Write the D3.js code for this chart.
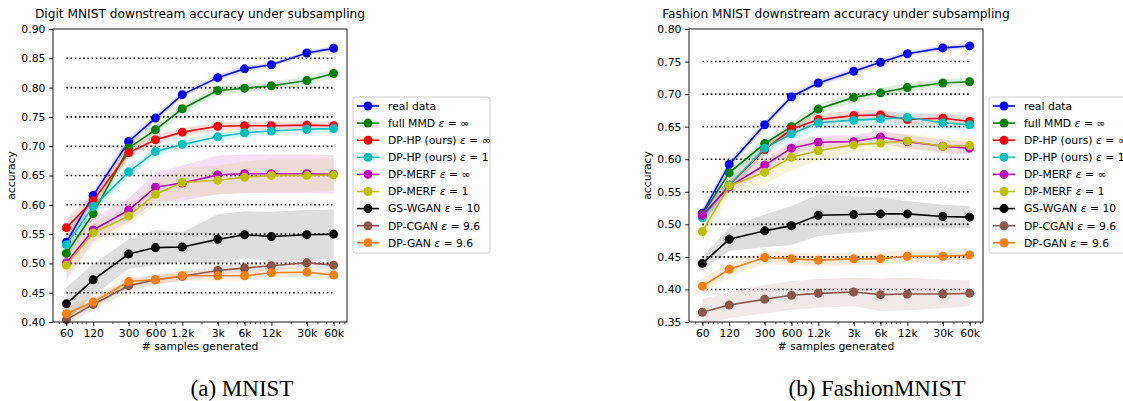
<!DOCTYPE html>
<html>
<head>
<meta charset="utf-8">
<script src="https://cdn.jsdelivr.net/npm/d3@7"></script>
<style>
  body { margin: 0; background: #fff; }
  svg { display: block; font-family: "DejaVu Sans", sans-serif; }
</style>
</head>
<body>
<svg id="chart" width="1123" height="401"></svg>
<script>
// CONSTANTS
/**
 * Number of generated samples used on the x axis (log scale)
 * @type {Array}
 */
const sampleSizes = [60, 120, 300, 600, 1200, 3000, 6000, 12000, 30000, 60000];
const sampleLabels = ['60', '120', '300', '600', '1.2k', '3k', '6k', '12k', '30k', '60k'];

const methodNames = ['real data', 'full MMD', 'DP-HP (ours)', 'DP-HP (ours)', 'DP-MERF', 'DP-MERF',
  'GS-WGAN', 'DP-CGAN', 'DP-GAN'];
const methodEpsilons = ['', '∞', '∞', '1', '∞', '1', '10', '9.6', '9.6'];
const methodColors = ['#0000ff', '#008000', '#ff0000', '#00bfbf', '#bf00bf', '#bfbf00', '#000000', '#8c564b', '#ff7f0e'];

// Digit MNIST, mean accuracy
const mnistRealData = [0.536, 0.616, 0.708, 0.748, 0.788, 0.817, 0.832, 0.839, 0.859, 0.867];
const mnistFullMmd = [0.517, 0.585, 0.697, 0.728, 0.764, 0.795, 0.799, 0.803, 0.812, 0.824];
const mnistDpHpInf = [0.561, 0.607, 0.689, 0.711, 0.724, 0.734, 0.735, 0.735, 0.736, 0.735];
const mnistDpHpEps1 = [0.532, 0.597, 0.656, 0.691, 0.703, 0.716, 0.723, 0.726, 0.729, 0.730];
const mnistMerfInf = [0.501, 0.557, 0.591, 0.630, 0.637, 0.651, 0.653, 0.653, 0.653, 0.652];
const mnistMerfEps1 = [0.497, 0.552, 0.581, 0.618, 0.638, 0.642, 0.647, 0.650, 0.650, 0.651];
const mnistGsWgan = [0.431, 0.472, 0.516, 0.527, 0.528, 0.541, 0.549, 0.546, 0.549, 0.550];
const mnistDpCgan = [0.404, 0.430, 0.462, 0.472, 0.478, 0.488, 0.492, 0.496, 0.501, 0.497];
const mnistDpGan = [0.414, 0.434, 0.469, 0.472, 0.479, 0.479, 0.479, 0.484, 0.485, 0.480];

// Digit MNIST, half width of the shaded band
const mnistRealDataErr = [0.010, 0.008, 0.008, 0.006, 0.005, 0.005, 0.005, 0.004, 0.004, 0.004];
const mnistFullMmdErr = [0.010, 0.010, 0.010, 0.008, 0.007, 0.007, 0.007, 0.007, 0.007, 0.007];
const mnistDpHpInfErr = [0.017, 0.012, 0.010, 0.008, 0.007, 0.007, 0.007, 0.007, 0.006, 0.006];
const mnistDpHpEps1Err = [0.010, 0.012, 0.010, 0.008, 0.007, 0.007, 0.007, 0.007, 0.007, 0.007];
const mnistMerfInfErr = [0.030, 0.020, 0.020, 0.025, 0.030, 0.033, 0.033, 0.033, 0.033, 0.033];
const mnistMerfEps1Err = [0.020, 0.020, 0.015, 0.020, 0.025, 0.025, 0.027, 0.028, 0.028, 0.028];
const mnistGsWganErr = [0.028, 0.027, 0.025, 0.030, 0.025, 0.043, 0.040, 0.042, 0.042, 0.042];
const mnistDpCganErr = [0.010, 0.010, 0.010, 0.008, 0.008, 0.008, 0.008, 0.008, 0.008, 0.008];
const mnistDpGanErr = [0.010, 0.010, 0.008, 0.008, 0.008, 0.008, 0.008, 0.008, 0.008, 0.008];

// Fashion MNIST, mean accuracy
const fashionRealData = [0.517, 0.592, 0.653, 0.696, 0.717, 0.735, 0.749, 0.762, 0.771, 0.774];
const fashionFullMmd = [0.515, 0.579, 0.624, 0.650, 0.677, 0.695, 0.702, 0.710, 0.717, 0.719];
const fashionDpHpInf = [0.512, 0.560, 0.615, 0.646, 0.661, 0.667, 0.668, 0.661, 0.663, 0.658];
const fashionDpHpEps1 = [0.510, 0.560, 0.617, 0.639, 0.656, 0.660, 0.662, 0.664, 0.656, 0.653];
const fashionMerfInf = [0.514, 0.558, 0.591, 0.617, 0.626, 0.627, 0.634, 0.627, 0.620, 0.617];
const fashionMerfEps1 = [0.489, 0.559, 0.580, 0.603, 0.613, 0.622, 0.625, 0.628, 0.620, 0.621];
const fashionGsWgan = [0.440, 0.477, 0.490, 0.498, 0.514, 0.515, 0.516, 0.516, 0.512, 0.511];
const fashionDpCgan = [0.365, 0.376, 0.385, 0.391, 0.394, 0.396, 0.392, 0.393, 0.393, 0.394];
const fashionDpGan = [0.405, 0.431, 0.449, 0.447, 0.445, 0.447, 0.447, 0.451, 0.451, 0.453];

// Fashion MNIST, half width of the shaded band
const fashionRealDataErr = [0.008, 0.006, 0.006, 0.005, 0.005, 0.005, 0.005, 0.004, 0.004, 0.004];
const fashionFullMmdErr = [0.008, 0.007, 0.007, 0.007, 0.007, 0.007, 0.007, 0.007, 0.006, 0.006];
const fashionDpHpInfErr = [0.008, 0.008, 0.008, 0.008, 0.008, 0.008, 0.008, 0.008, 0.008, 0.008];
const fashionDpHpEps1Err = [0.010, 0.010, 0.010, 0.010, 0.010, 0.010, 0.010, 0.010, 0.010, 0.010];
const fashionMerfInfErr = [0.010, 0.010, 0.010, 0.010, 0.010, 0.010, 0.010, 0.010, 0.010, 0.010];
const fashionMerfEps1Err = [0.015, 0.015, 0.018, 0.020, 0.015, 0.012, 0.012, 0.012, 0.012, 0.012];
const fashionGsWganErr = [0.010, 0.018, 0.025, 0.030, 0.032, 0.028, 0.025, 0.020, 0.018, 0.017];
const fashionDpCganErr = [0.020, 0.020, 0.022, 0.022, 0.022, 0.022, 0.025, 0.025, 0.022, 0.020];
const fashionDpGanErr = [0.012, 0.010, 0.010, 0.010, 0.010, 0.010, 0.010, 0.010, 0.010, 0.010];

const mnistTicks = [0.40, 0.45, 0.50, 0.55, 0.60, 0.65, 0.70, 0.75, 0.80, 0.85, 0.90];
const mnistGuides = [0.45, 0.50, 0.55, 0.60, 0.65, 0.70, 0.75, 0.80, 0.85];
const fashionTicks = [0.35, 0.40, 0.45, 0.50, 0.55, 0.60, 0.65, 0.70, 0.75, 0.80];
const fashionGuides = [0.40, 0.45, 0.50, 0.55, 0.60, 0.65, 0.70, 0.75];

const TICK_FONT = 10.8;
const TICK_LEN = 3.8;

let svg = d3.select('#chart');
svg.append('rect').attr('width', 1123).attr('height', 401).attr('fill', '#fff');

/**
 * Builds the table of series for one panel from the named arrays
 */
function buildSeries(means, errs) {
  return means.map((values, i) => ({
    name: methodNames[i],
    eps: methodEpsilons[i],
    color: methodColors[i],
    points: values.map((v, j) => ({ n: sampleSizes[j], v: v, e: errs[i][j] }))
  }));
}

/**
 * Writes "name ε = value" with the epsilon in italic, like matplotlib mathtext
 */
function writeLabel(textSel, series) {
  textSel.append('tspan').text(series.name);
  if (series.eps !== '') {
    textSel.append('tspan').text(' ');
    textSel.append('tspan').attr('font-style', 'italic').text('ε');
    textSel.append('tspan').text(' = ' + series.eps);
  }
}

/**
 * Draws one full panel: axes, guides, bands, lines, legend
 */
function drawPanel(cfg) {
  let g = svg.append('g');
  let x = d3.scaleLog()
    .domain([60 / Math.pow(10, 0.15), 60000 * Math.pow(10, 0.15)])
    .range([cfg.left, cfg.right]);
  let y = d3.scaleLinear().domain(cfg.yDomain).range([cfg.bottom, cfg.top]);

  // horizontal dotted guides
  g.selectAll('.guide').data(cfg.guides).enter().append('line')
    .attr('x1', x(60)).attr('x2', x(60000))
    .attr('y1', d => y(d)).attr('y2', d => y(d))
    .attr('stroke', '#000').attr('stroke-width', 1.6)
    .attr('stroke-dasharray', '1.6,2.6');

  let area = d3.area().x(d => x(d.n)).y0(d => y(d.v - d.e)).y1(d => y(d.v + d.e));
  let line = d3.line().x(d => x(d.n)).y(d => y(d.v));

  for (let s of cfg.series) {
    g.append('path').attr('d', area(s.points))
      .attr('fill', s.color).attr('fill-opacity', 0.13);
  }
  for (let s of cfg.series) {
    g.append('path').attr('d', line(s.points))
      .attr('fill', 'none').attr('stroke', s.color).attr('stroke-width', 1.6);
    g.selectAll(null).data(s.points).enter().append('circle')
      .attr('cx', d => x(d.n)).attr('cy', d => y(d.v)).attr('r', 4.5)
      .attr('fill', s.color);
  }

  // y axis
  let yAxis = g.append('g').attr('transform', `translate(${cfg.left},0)`)
    .call(d3.axisLeft(y).tickValues(cfg.ticks).tickFormat(d3.format('.2f'))
      .tickSize(TICK_LEN).tickPadding(3.8).tickSizeOuter(0));
  yAxis.select('.domain').remove();
  yAxis.selectAll('text').attr('font-size', TICK_FONT).attr('fill', '#000').attr('font-family', 'DejaVu Sans');
  yAxis.selectAll('line').attr('stroke-width', 0.9);

  // x axis with minor ticks
  let minor = [];
  for (let p = 1; p <= 4; p++) {
    for (let m = 1; m <= 9; m++) {
      let v = m * Math.pow(10, p);
      if (v >= x.domain()[0] && v <= x.domain()[1]) minor.push(v);
    }
  }
  g.append('g').attr('transform', `translate(0,${cfg.bottom})`)
    .selectAll('line').data(minor).enter().append('line')
    .attr('x1', d => x(d)).attr('x2', d => x(d)).attr('y1', 0).attr('y2', 2.2)
    .attr('stroke', '#000').attr('stroke-width', 0.7);
  let xAxis = g.append('g').attr('transform', `translate(0,${cfg.bottom})`)
    .call(d3.axisBottom(x).tickValues(sampleSizes).tickFormat((d, i) => sampleLabels[i])
      .tickSize(TICK_LEN).tickPadding(3.8).tickSizeOuter(0));
  xAxis.select('.domain').remove();
  xAxis.selectAll('text').attr('font-size', TICK_FONT).attr('fill', '#000').attr('font-family', 'DejaVu Sans');
  xAxis.selectAll('line').attr('stroke-width', 0.9);

  // frame
  g.append('rect').attr('x', cfg.left).attr('y', cfg.top)
    .attr('width', cfg.right - cfg.left).attr('height', cfg.bottom - cfg.top)
    .attr('fill', 'none').attr('stroke', '#000').attr('stroke-width', 0.9);

  // texts
  g.append('text').attr('x', (cfg.left + cfg.right) / 2).attr('y', 18)
    .attr('text-anchor', 'middle').attr('font-size', 12.2).text(cfg.title);
  g.append('text').attr('x', (cfg.left + cfg.right) / 2).attr('y', 350)
    .attr('text-anchor', 'middle').attr('font-size', TICK_FONT).text('# samples generated');
  g.append('text').attr('transform', `translate(${cfg.left - 38},${(cfg.top + cfg.bottom) / 2}) rotate(-90)`)
    .attr('text-anchor', 'middle').attr('font-size', TICK_FONT).text('accuracy');
  g.append('text').attr('x', cfg.captionX).attr('y', 396)
    .attr('text-anchor', 'middle').attr('font-size', 23)
    .attr('font-family', '"Liberation Serif", "Times New Roman", serif').text(cfg.caption);

  // legend
  let lg = g.append('g').attr('transform', `translate(${cfg.legendX},97)`);
  lg.append('rect').attr('width', 137).attr('height', 156).attr('rx', 2.5)
    .attr('fill', '#fff').attr('fill-opacity', 0.8).attr('stroke', '#cccccc').attr('stroke-width', 0.9);
  cfg.series.forEach((s, i) => {
    let row = lg.append('g').attr('transform', `translate(0,${9 + i * 17.1})`);
    row.append('line').attr('x1', 4).attr('x2', 26).attr('stroke', s.color).attr('stroke-width', 1.6);
    row.append('circle').attr('cx', 15).attr('r', 4.5).attr('fill', s.color);
    let t = row.append('text').attr('x', 35).attr('dy', '0.36em').attr('font-size', TICK_FONT);
    writeLabel(t, s);
  });
}

drawPanel({
  title: 'Digit MNIST downstream accuracy under subsampling',
  caption: '(a) MNIST',
  captionX: 242,
  left: 53, right: 347, top: 29, bottom: 322,
  yDomain: [0.40, 0.90],
  ticks: mnistTicks,
  guides: mnistGuides,
  legendX: 353,
  series: buildSeries(
    [mnistRealData, mnistFullMmd, mnistDpHpInf, mnistDpHpEps1, mnistMerfInf, mnistMerfEps1, mnistGsWgan, mnistDpCgan, mnistDpGan],
    [mnistRealDataErr, mnistFullMmdErr, mnistDpHpInfErr, mnistDpHpEps1Err, mnistMerfInfErr, mnistMerfEps1Err, mnistGsWganErr, mnistDpCganErr, mnistDpGanErr])
});

drawPanel({
  title: 'Fashion MNIST downstream accuracy under subsampling',
  caption: '(b) FashionMNIST',
  captionX: 877,
  left: 689, right: 983, top: 29, bottom: 322,
  yDomain: [0.35, 0.80],
  ticks: fashionTicks,
  guides: fashionGuides,
  legendX: 989,
  series: buildSeries(
    [fashionRealData, fashionFullMmd, fashionDpHpInf, fashionDpHpEps1, fashionMerfInf, fashionMerfEps1, fashionGsWgan, fashionDpCgan, fashionDpGan],
    [fashionRealDataErr, fashionFullMmdErr, fashionDpHpInfErr, fashionDpHpEps1Err, fashionMerfInfErr, fashionMerfEps1Err, fashionGsWganErr, fashionDpCganErr, fashionDpGanErr])
});
</script>
</body>
</html>
